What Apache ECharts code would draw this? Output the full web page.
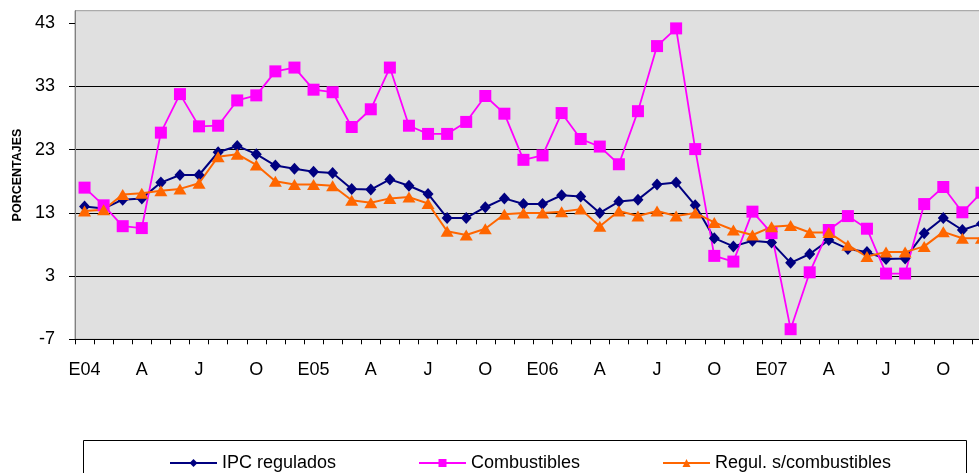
<!DOCTYPE html>
<html>
<head>
<meta charset="utf-8">
<script src="https://cdn.jsdelivr.net/npm/echarts@6/dist/echarts.min.js"></script>
<style>
  html, body { margin: 0; padding: 0; background: #fff; overflow: hidden; }
  /* el gráfico original está cortado a la derecha: el lienzo es algo más ancho que la ventana */
  #main { width: 991px; height: 473px; }
</style>
</head>
<body>
<div id="main"></div>
<script>
// meses E04 .. D07 (solo se rotula cada tercer mes)
var months = [
  "E04", "F", "M", "A", "M", "J", "J", "A", "S", "O", "N", "D",
  "E05", "F", "M", "A", "M", "J", "J", "A", "S", "O", "N", "D",
  "E06", "F", "M", "A", "M", "J", "J", "A", "S", "O", "N", "D",
  "E07", "F", "M", "A", "M", "J", "J", "A", "S", "O", "N", "D"
];

var ipcRegulados = [
  14.0, 13.7, 15.1, 15.3, 17.8, 19.0, 19.0, 22.6, 23.6, 22.3, 20.5, 20.0,
  19.5, 19.3, 16.8, 16.7, 18.3, 17.3, 16.0, 12.2, 12.2, 13.9, 15.3, 14.4,
  14.4, 15.8, 15.6, 13.0, 14.8, 15.1, 17.5, 17.8, 14.2, 9.0, 7.7, 8.6,
  8.3, 5.1, 6.5, 8.7, 7.3, 6.8, 5.7, 5.8, 9.8, 12.2, 10.3, 11.3
];

var combustibles = [
  17.0, 14.2, 10.9, 10.6, 25.7, 31.8, 26.7, 26.8, 30.8, 31.6, 35.4, 36.0,
  32.5, 32.1, 26.6, 29.4, 36.0, 26.8, 25.5, 25.5, 27.4, 31.5, 28.7, 21.4,
  22.1, 28.8, 24.7, 23.5, 20.7, 29.1, 39.4, 42.2, 23.1, 6.2, 5.3, 13.2,
  9.8, -5.4, 3.6, 10.3, 12.5, 10.5, 3.4, 3.4, 14.4, 17.1, 13.1, 16.2
];

var regulSinComb = [
  13.3, 13.5, 15.9, 16.1, 16.5, 16.8, 17.7, 21.9, 22.3, 20.6, 18.0, 17.5,
  17.5, 17.3, 15.0, 14.6, 15.3, 15.5, 14.5, 10.1, 9.5, 10.5, 12.8, 13.0,
  13.0, 13.2, 13.6, 10.9, 13.3, 12.5, 13.3, 12.5, 13.0, 11.5, 10.3, 9.5,
  10.8, 11.0, 9.9, 9.9, 7.9, 6.1, 6.8, 6.8, 7.7, 10.0, 9.0, 9.0
];

var yTicks = [-7, 3, 13, 23, 33, 43];

var FONT = "'Liberation Sans', Arial, sans-serif";

var myChart = echarts.init(document.getElementById("main"));

function legendFor(name, left) {
  return {
    data: [name],
    left: left,
    top: 449,
    itemWidth: 47,
    itemHeight: 10,
    textStyle: { fontFamily: FONT, fontSize: 18, color: "#000" }
  };
}

myChart.setOption({
  animation: false,
  backgroundColor: "#fff",
  grid: {
    left: 75,
    top: 10.7,
    bottom: 133.7,
    right: 0,
    show: true,
    backgroundColor: "#e0e0e0",
    borderColor: "#999",
    borderWidth: 1
  },
  legend: [
    legendFor("IPC regulados", 164),
    legendFor("Combustibles", 413),
    legendFor("Regul. s/combustibles", 657)
  ],
  graphic: [
    {
      type: "rect",
      shape: { x: 83.5, y: 440.5, width: 883, height: 60 },
      style: { fill: "#fff", stroke: "#000", lineWidth: 1 },
      z: -1
    }
  ],
  xAxis: {
    type: "category",
    data: months,
    boundaryGap: true,
    axisLine: { onZero: false, lineStyle: { color: "#000", width: 1 } },
    axisTick: { show: true, interval: 0, length: 5, lineStyle: { color: "#000" } },
    axisLabel: {
      interval: 2,
      margin: 22,
      fontFamily: FONT,
      fontSize: 18,
      color: "#000"
    },
    splitLine: { show: false }
  },
  yAxis: {
    type: "value",
    min: -7,
    max: 45,
    interval: 10,
    name: "PORCENTAJES",
    nameLocation: "middle",
    nameGap: 50,
    nameTextStyle: { fontFamily: FONT, fontSize: 12.5, fontWeight: "bold", color: "#000" },
    axisLine: { show: true, lineStyle: { color: "#808080", width: 1 } },
    axisTick: { show: true, length: 6, customValues: yTicks, lineStyle: { color: "#000" } },
    axisLabel: {
      customValues: yTicks,
      margin: 20,
      fontFamily: FONT,
      fontSize: 18,
      color: "#000"
    },
    splitLine: { show: true, showMaxLine: false, lineStyle: { color: "#000", width: 1 } }
  },
  series: [
    {
      name: "IPC regulados",
      type: "line",
      data: ipcRegulados,
      symbol: "diamond",
      symbolSize: [11, 12],
      color: "#000080",
      lineStyle: { color: "#000080", width: 2 },
      itemStyle: { color: "#000080" }
    },
    {
      name: "Combustibles",
      type: "line",
      data: combustibles,
      symbol: "rect",
      symbolSize: 12,
      color: "#ff00ff",
      lineStyle: { color: "#ff00ff", width: 1.8 },
      itemStyle: { color: "#ff00ff" }
    },
    {
      name: "Regul. s/combustibles",
      type: "line",
      data: regulSinComb,
      symbol: "triangle",
      symbolSize: [13, 11],
      color: "#ff6600",
      lineStyle: { color: "#ff6600", width: 2 },
      itemStyle: { color: "#ff6600" }
    }
  ]
});
</script>
</body>
</html>
